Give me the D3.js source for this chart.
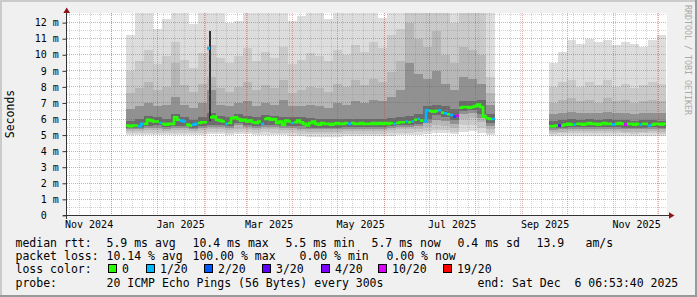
<!DOCTYPE html>
<html>
<head>
<meta charset="utf-8">
<script src="https://cdn.jsdelivr.net/npm/d3@7"></script>
<style>
  html, body { margin: 0; padding: 0; background: #f0f0f0; }
  svg { display: block; font-family: "DejaVu Sans Mono", monospace; }
  text { white-space: pre; }
</style>
</head>
<body>
<script>
// ---- data ----
// two stretches with data, each starts at 00:00 UTC of this day
const segmentStart = ["2024-12-11", "2025-09-19"];
const medianStepDays = 2;
const smokeStepDays = 6;

// median rtt in ms, one value per 2 days
const median = [
  [5.6,5.55,5.6,5.6,5.55,5.7,5.7,5.95,5.9,5.85,
   5.85,5.75,5.7,5.65,5.7,5.7,6.1,5.95,5.9,5.85,
   5.65,5.6,5.65,5.7,5.75,5.8,5.8,10.4,6.1,6.15,
   5.95,5.9,5.85,5.7,5.75,6.05,6.1,6.0,5.9,5.95,
   5.85,5.9,5.8,5.75,5.85,5.7,6.0,6.05,5.95,6.0,
   5.75,5.85,5.65,5.9,5.85,5.75,5.8,5.9,5.8,5.7,
   5.6,5.75,5.85,5.7,5.65,5.75,5.7,5.7,5.65,5.7,
   5.75,5.7,5.7,5.75,5.7,5.75,5.7,5.7,5.75,5.7,
   5.7,5.7,5.75,5.7,5.75,5.7,5.75,5.7,5.75,5.7,
   5.75,5.8,5.8,5.85,5.8,5.85,5.95,6.0,5.9,5.85,
   6.55,6.5,6.45,6.5,6.55,6.4,6.35,6.3,6.25,6.15,
   6.2,6.7,6.75,6.75,6.7,6.75,6.8,6.9,6.75,6.15,
   6.05,6.0,6.0],
  [5.55,5.55,5.6,5.6,5.6,5.65,5.7,5.65,5.65,5.7,
   5.7,5.65,5.7,5.75,5.7,5.7,5.65,5.7,5.75,5.7,
   5.7,5.65,5.7,5.75,5.7,5.65,5.7,5.7,5.65,5.7,
   5.65,5.7,5.7,5.6,5.65,5.7,5.7,5.65,5.7]
];

// lost pings out of 20, same buckets as the median
const loss = [
  [0,0,0,0,1,1,0,0,0,0, 0,1,0,0,0,0,0,0,1,1, 0,0,1,1,0,0,0,1,0,0,
   0,0,0,1,0,0,0,0,0,0, 0,0,0,0,0,1,0,0,0,0, 0,0,0,0,0,1,0,0,0,0,
   0,0,0,0,0,0,0,0,0,0, 0,0,0,0,1,0,0,0,0,0, 0,0,0,0,0,0,0,0,0,1,
   0,0,0,1,0,1,0,1,0,1, 1,0,0,0,1,0,1,0,1,2, 10,0,0,0,0,0,0,0,0,0,
   0,0,1],
  [0,0,0,3,0,0,0,0,1,0, 0,0,0,0,0,0,0,0,0,0, 0,1,0,0,0,10,0,0,0,0,
   1,0,0,1,0,0,0,0,0]
];

// sorted ping ranks (ms), one value per 6 days; 13 = above the top of the chart
const ping20 = [
  [11.2,13,13,11.6,12.2,13,13,11.9,13,13, 13,12.0,12.1,13,13,13,13,13,12.1,12.4,
   13,13,12.2,13,13,13,13,13,12.3,13, 13,13,13,13,13,13,13,13,13,13,13],
  [9.5,10.2,10.9,10.7,11.0,10.8,10.9,10.6,10.8,10.7,10.5,10.9,11.2]
];
const ping19 = [
  [9.0,9.6,10.3,9.4,9.9,10.8,9.7,9.2,10.1,10.6, 9.8,9.5,9.9,10.4,9.6,10.2,9.8,10.5,9.4,9.7,
   10.1,9.9,9.6,10.3,10.0,10.6,10.2,10.8,10.4,11.2, 11.6,13,13,13,13,13,12.0,13,13,13,8.6],
  [8.0,8.3,8.4,8.0,8.3,8.1,8.4,8.0,8.2,7.9,8.1,8.3,8.2]
];
const ping17 = [
  [7.6,7.9,8.3,7.8,8.0,9.5,8.1,7.7,8.2,8.6, 7.9,7.7,8.0,8.3,7.8,8.1,7.9,8.4,7.6,7.8,
   8.0,7.9,7.7,8.2,8.0,8.4,8.1,8.5,8.3,8.9, 9.6,12.0,11.0,10.5,11.5,10.0,9.5,10.5,10.3,10.0,7.6],
  [7.0,7.2,7.3,7.1,7.2,7.0,7.3,7.1,7.2,7.0,7.1,7.2,7.1]
];
const ping15 = [
  [6.6,6.8,7.0,6.8,6.9,7.4,6.9,6.7,7.0,7.8, 6.9,6.8,7.0,7.1,6.8,7.0,6.9,7.2,6.8,6.8,
   6.9,6.8,6.7,7.0,6.9,7.1,7.0,7.2,7.1,7.4, 7.8,9.5,8.8,8.5,9.0,8.2,7.8,8.6,8.5,8.2,6.9],
  [6.3,6.4,6.45,6.4,6.4,6.35,6.45,6.4,6.4,6.3,6.35,6.4,6.35]
];
const ping13 = [
  [5.9,6.0,6.2,6.15,6.0,6.3,6.1,5.95,6.1,6.4, 6.2,6.15,6.3,6.2,6.1,6.25,6.2,6.15,6.1,6.1,
   6.05,6.0,6.0,6.0,6.0,6.0,6.0,6.0,6.0,6.05, 6.1,6.2,6.3,6.8,6.9,6.8,6.6,7.1,7.15,7.2,6.3],
  [5.9,5.95,6.0,5.95,6.0,5.95,6.0,5.95,5.95,5.9,5.95,5.95,5.9]
];
const ping8 = [
  [5.45,5.45,5.55,5.6,5.5,5.55,5.55,5.45,5.55,5.65, 5.65,5.55,5.75,5.65,5.55,5.6,5.65,5.55,5.55,5.55,
   5.45,5.45,5.45,5.45,5.5,5.5,5.5,5.5,5.5,5.55, 5.6,5.65,5.7,6.0,6.25,6.1,5.95,6.5,6.55,6.3,5.75],
  [5.42,5.45,5.5,5.5,5.5,5.5,5.5,5.5,5.45,5.45,5.45,5.5,5.45]
];
const ping6 = [
  [5.35,5.35,5.45,5.45,5.4,5.45,5.45,5.35,5.45,5.5, 5.5,5.45,5.6,5.5,5.45,5.5,5.5,5.45,5.45,5.4,
   5.35,5.35,5.35,5.35,5.4,5.4,5.4,5.4,5.4,5.45, 5.5,5.5,5.55,5.75,5.95,5.85,5.7,6.3,6.35,6.05,5.55],
  [5.32,5.35,5.4,5.4,5.4,5.4,5.4,5.4,5.35,5.35,5.35,5.4,5.35]
];
const ping4 = [
  [5.25,5.25,5.3,5.3,5.25,5.3,5.3,5.25,5.3,5.35, 5.35,5.3,5.4,5.35,5.3,5.35,5.35,5.3,5.3,5.25,
   5.2,5.2,5.2,5.2,5.25,5.25,5.25,5.25,5.25,5.3, 5.35,5.35,5.4,5.5,5.6,5.55,5.45,6.0,6.05,5.8,5.35],
  [5.2,5.22,5.25,5.25,5.25,5.25,5.25,5.25,5.22,5.22,5.22,5.25,5.22]
];
const ping2 = [
  [5.12,5.12,5.15,5.15,5.12,5.15,5.15,5.12,5.15,5.18, 5.18,5.15,5.2,5.18,5.15,5.18,5.15,5.12,5.1,5.08,
   5.05,5.05,5.05,5.05,5.08,5.08,5.08,5.08,5.08,5.1, 5.15,5.15,5.2,5.25,5.3,5.3,5.2,5.6,5.65,5.45,5.15],
  [5.08,5.1,5.1,5.12,5.1,5.1,5.12,5.1,5.1,5.08,5.1,5.1,5.08]
];
const ping1 = [
  [5.0,5.0,5.02,5.02,5.0,5.02,5.02,5.0,5.02,5.04, 5.04,5.02,5.05,5.04,5.02,5.02,5.0,4.98,4.95,4.92,
   4.9,4.9,4.9,4.9,4.92,4.92,4.92,4.92,4.92,4.95, 5.0,5.0,5.02,5.05,5.1,5.1,5.05,5.2,5.25,5.1,5.0],
  [4.95,4.95,4.97,4.97,4.95,4.95,4.97,4.95,4.95,4.93,4.95,4.95,4.93]
];

// one short outage where the middle pings split wide apart
const spikeFrom = ["2025-02-04T00:00:00Z"];
const spikeTo = ["2025-02-05T08:00:00Z"];
const spikeLow = [5.9];
const spikeHigh = [11.5];

const lossLevels = [0, 1, 2, 3, 4, 10, 19];
const lossLabels = ["0", "1/20", "2/20", "3/20", "4/20", "10/20", "19/20"];
const lossColors = ["#26ff00", "#00b8ff", "#0059ff", "#5e00ff", "#7e00ff", "#dd00ff", "#ff0000"];

const xLabelMonths = ["2024-11-01", "2025-01-01", "2025-03-01", "2025-05-01", "2025-07-01", "2025-09-01", "2025-11-01"];
const xLabels = ["Nov 2024", "Jan 2025", "Mar 2025", "May 2025", "Jul 2025", "Sep 2025", "Nov 2025"];
const yTickValues = [0, 1, 2, 3, 4, 5, 6, 7, 8, 9, 10, 11, 12];

const rttLine = ["median rtt:", "5.9 ms avg", "10.4 ms max", "5.5 ms min", "5.7 ms now", "0.4 ms sd", "13.9", "am/s"];
const lossLine = ["packet loss:", "10.14 % avg", "100.00 % max", "0.00 % min", "0.00 % now"];
const probeLine = ["probe:", "20 ICMP Echo Pings (56 Bytes) every 300s", "end: Sat Dec  6 06:53:40 2025"];

// ---- layout ----
const W = 697, H = 297;
const plot = { left: 67, right: 667, top: 13, bottom: 215.5 };
const rttX = [15.5, 106.5, 192.5, 285.5, 371.5, 457.5, 536.5, 585.5];
const lossX = [15.5, 106.5, 192.5, 299.5, 386.5];
const probeX = [15.5, 106.5, 477.5];
const legendBoxX = [108, 146, 204, 262, 321, 378, 443];
const rowY = [246.5, 259.9, 273.3, 286.6];

const start = new Date("2024-11-01T06:53:40Z");
const end = new Date("2025-12-06T06:53:40Z");
const x = d3.scaleUtc().domain([start, end]).range([66.5, 666.5]);
const y = d3.scaleLinear().domain([0, 12.6]).range([215.4, 13.0]);

const day = d3.utcDay;
const segDate = s => new Date(segmentStart[s] + "T00:00:00Z");
const bucket = (s, i, step) => [day.offset(segDate(s), i * step), day.offset(segDate(s), (i + 1) * step)];
const gray = k => { const c = Math.floor(190 / 10 * (10 - k)) + 50; return d3.rgb(c, c, c).formatHex(); };
const lossBin = n => d3.bisectRight(lossLevels, n) - 1;
const px = v => Math.round(v - 0.5) + 0.5;

const svg = d3.select("body").append("svg").attr("width", W).attr("height", H);

// background and shaded frame
svg.append("rect").attr("width", W).attr("height", H).attr("fill", "#f0f0f0");
svg.append("path").attr("d", `M0,0H${W}V2H2V${H}H0Z`).attr("fill", "#cbcbcb");
svg.append("path").attr("d", `M${W},${H}H0V${H - 2}H${W - 2}V0H${W}Z`).attr("fill", "#999999");

// canvas
svg.append("rect")
  .attr("x", plot.left).attr("y", plot.top)
  .attr("width", plot.right - plot.left).attr("height", plot.bottom - plot.top)
  .attr("fill", "#ffffff");

svg.append("clipPath").attr("id", "clip").append("rect")
  .attr("x", plot.left).attr("y", plot.top)
  .attr("width", plot.right - plot.left).attr("height", plot.bottom - plot.top);

// smoke: outer ranks first, inner ranks drawn over them
const bands = [
  { lo: ping1, hi: ping20, k: 1 },
  { lo: ping2, hi: ping19, k: 2 },
  { lo: ping4, hi: ping17, k: 3 },
  { lo: ping6, hi: ping15, k: 5 },
  { lo: ping8, hi: ping13, k: 7 }
];
const smoke = svg.append("g").attr("clip-path", "url(#clip)").attr("shape-rendering", "crispEdges");
bands.forEach(b => {
  const recs = [];
  b.lo.forEach((seg, s) => seg.forEach((lo, i) => {
    const [t0, t1] = bucket(s, i, smokeStepDays);
    recs.push({ t0, t1, lo, hi: b.hi[s][i] });
  }));
  smoke.append("g").attr("fill", gray(b.k))
    .selectAll("rect").data(recs).join("rect")
    .attr("x", d => Math.round(x(d.t0)))
    .attr("width", d => Math.round(x(d.t1)) - Math.round(x(d.t0)))
    .attr("y", d => y(d.hi))
    .attr("height", d => y(d.lo) - y(d.hi));
});
smoke.append("g").attr("fill", gray(10))
  .selectAll("rect").data(spikeFrom.map((f, i) => ({ t0: new Date(f), t1: new Date(spikeTo[i]), lo: spikeLow[i], hi: spikeHigh[i] })))
  .join("rect")
  .attr("x", d => Math.round(x(d.t0)))
  .attr("width", d => Math.round(x(d.t1)) - Math.round(x(d.t0)))
  .attr("y", d => y(d.hi))
  .attr("height", d => y(d.lo) - y(d.hi));

// grid
const grid = svg.append("g").attr("stroke-dasharray", "1,1").attr("stroke-width", 1);
const minorColor = "rgba(140,140,140,0.38)";
const majorColor = "rgba(200,60,60,0.45)";
const halfSteps = d3.range(0.5, 12.6, 0.5).filter(v => v % 1 !== 0);
grid.selectAll(".hmin").data(halfSteps).join("line")
  .attr("x1", plot.left).attr("x2", plot.right)
  .attr("y1", d => px(y(d))).attr("y2", d => px(y(d)))
  .attr("stroke", minorColor);
const weeks = d3.utcSunday.range(start, end);
grid.selectAll(".vmin").data(weeks).join("line")
  .attr("x1", d => px(x(d))).attr("x2", d => px(x(d)))
  .attr("y1", plot.top).attr("y2", plot.bottom)
  .attr("stroke", minorColor);
grid.selectAll(".hmaj").data(yTickValues.slice(1)).join("line")
  .attr("x1", plot.left).attr("x2", plot.right)
  .attr("y1", d => px(y(d))).attr("y2", d => px(y(d)))
  .attr("stroke", majorColor);
const months = d3.utcMonth.range(start, end);
grid.selectAll(".vmaj").data(months).join("line")
  .attr("x1", d => px(x(d))).attr("x2", d => px(x(d)))
  .attr("y1", plot.top).attr("y2", plot.bottom)
  .attr("stroke", majorColor);

// median line, one path per loss colour (gaps where the colour changes)
const medianG = svg.append("g").attr("clip-path", "url(#clip)");
const line = d3.line().defined(d => d.on).x(d => x(d.t)).y(d => y(d.v));
lossLevels.forEach((lvl, c) => {
  median.forEach((seg, s) => {
    const pts = [];
    seg.forEach((v, i) => {
      const [t0, t1] = bucket(s, i, medianStepDays);
      const on = lossBin(loss[s][i]) === c;
      pts.push({ t: t0, v, on }, { t: t1, v, on });
    });
    medianG.append("path")
      .attr("d", line(pts))
      .attr("fill", "none")
      .attr("stroke", lossColors[c])
      .attr("stroke-width", 2.6);
  });
});

// axes
const axisColor = "#333333";
const arrowColor = "#8f1313";
const yAxis = svg.append("g")
  .attr("transform", "translate(66.5,0)")
  .call(d3.axisLeft(y).tickValues(yTickValues).tickSize(4).tickPadding(3.7)
    .tickFormat(d => d === 0 ? "0  " : `${d} m`));
yAxis.select(".domain").remove();
yAxis.selectAll("line").attr("stroke", axisColor);
yAxis.selectAll("text")
  .attr("font-family", "DejaVu Sans Mono").attr("font-size", 10).attr("fill", "#000")
  .attr("xml:space", "preserve");

const labelTimes = xLabelMonths.map(m => day.offset(new Date(m + "T00:00:00Z"), 15));
const xAxis = svg.append("g")
  .attr("transform", `translate(0,${plot.bottom})`)
  .call(d3.axisBottom(x).tickValues(labelTimes).tickSize(0).tickPadding(5.4)
    .tickFormat((d, i) => xLabels[i]));
xAxis.select(".domain").remove();
xAxis.selectAll("text")
  .attr("font-family", "DejaVu Sans Mono").attr("font-size", 10).attr("fill", "#000");

svg.append("line").attr("x1", 63).attr("x2", 670).attr("y1", 215.5).attr("y2", 215.5)
  .attr("stroke", axisColor);
svg.append("line").attr("x1", 66.5).attr("x2", 66.5).attr("y1", 219).attr("y2", 12)
  .attr("stroke", axisColor);
svg.append("path").attr("d", "M66.7,7.5L63.4,13L70,13Z").attr("fill", arrowColor);
svg.append("path").attr("d", "M674.5,215.5L669,212.2L669,218.8Z").attr("fill", arrowColor);

// titles
svg.append("text")
  .attr("transform", "translate(14,114) rotate(-90)")
  .attr("text-anchor", "middle")
  .attr("font-size", 11.5)
  .text("Seconds");
svg.append("text")
  .attr("transform", "translate(684.5,5) rotate(90)")
  .attr("font-size", 8.3)
  .attr("fill", "#a9a9a9")
  .text("RRDTOOL / TOBI OETIKER");

// legend
const legend = svg.append("g").attr("font-size", 11.5).attr("fill", "#000");
function row(items, xs, yy) {
  legend.append("g").selectAll("text").data(items).join("text")
    .attr("x", (d, i) => xs[i]).attr("y", yy)
    .attr("xml:space", "preserve")
    .text(d => d);
}
row(rttLine, rttX, rowY[0]);
row(lossLine, lossX, rowY[1]);
row(["loss color:"], [15.5], rowY[2]);
row(probeLine, probeX, rowY[3]);

const keys = legend.append("g").selectAll("g").data(lossLabels).join("g");
keys.append("rect")
  .attr("x", (d, i) => legendBoxX[i] + 0.5).attr("y", 264.5)
  .attr("width", 8).attr("height", 8)
  .attr("fill", (d, i) => lossColors[i])
  .attr("stroke", "#000").attr("stroke-width", 1);
keys.append("text")
  .attr("x", (d, i) => legendBoxX[i] + 14)
  .attr("y", rowY[2])
  .text(d => d);
</script>
</body>
</html>
